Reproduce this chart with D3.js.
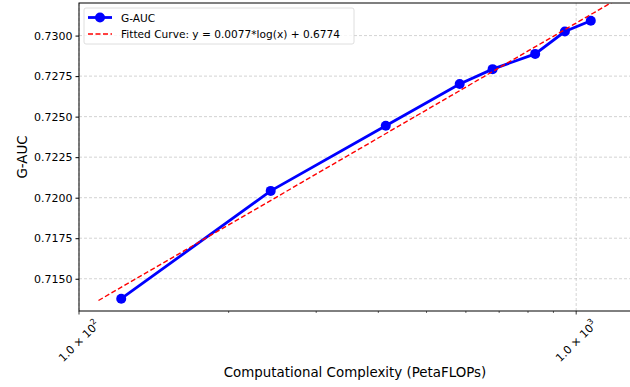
<!DOCTYPE html>
<html>
<head>
<meta charset="utf-8">
<script src="https://cdn.jsdelivr.net/npm/d3@7"></script>
<style>
  body { margin: 0; background: #fff; }
  svg { font-family: "DejaVu Sans", sans-serif; }
</style>
</head>
<body>
<div id="chart"></div>
<script>
// values
const flops = [121.6, 243, 414, 583, 679, 827, 949, 1070];
const gauc = [0.71377, 0.72042, 0.72444, 0.72701, 0.72793, 0.72887, 0.73025, 0.73092];
const yTicks = [0.7150, 0.7175, 0.7200, 0.7225, 0.7250, 0.7275, 0.7300];
const xMajor = [100, 1000];
const xMinor = [200, 300, 400, 500, 600, 700, 800, 900];
const fitLabel = 'Fitted Curve: y = 0.0077*log(x) + 0.6774';

const width = 630, height = 387;
const margin = { top: 3, right: -1, bottom: 76, left: 79 };
const W = width - margin.left - margin.right;
const H = height - margin.top - margin.bottom;

const svg = d3.select('#chart').append('svg')
  .attr('width', width)
  .attr('height', height);

const x = d3.scaleLog().domain([100, 1289]).range([0, W]);
const y = d3.scaleLinear().domain([0.71301, 0.73201]).range([H, 0]);

const g = svg.append('g')
  .attr('transform', 'translate(' + margin.left + ',' + margin.top + ')');

g.append('clipPath').attr('id', 'clip')
  .append('rect').attr('width', W).attr('height', H);

// grid
g.selectAll('.hgrid').data(yTicks).enter().append('line')
  .attr('x1', 0).attr('x2', W)
  .attr('y1', d => y(d)).attr('y2', d => y(d))
  .attr('stroke', '#b0b0b0').attr('stroke-opacity', 0.7)
  .attr('stroke-width', 0.8).attr('stroke-dasharray', '3,2');
g.selectAll('.vgrid').data(xMajor).enter().append('line')
  .attr('x1', d => x(d)).attr('x2', d => x(d))
  .attr('y1', 0).attr('y2', H)
  .attr('stroke', '#b0b0b0').attr('stroke-opacity', 0.7)
  .attr('stroke-width', 0.8).attr('stroke-dasharray', '3,2');

// least squares fit of gauc on ln(flops)
const lx = flops.map(Math.log);
const mx = d3.mean(lx), my = d3.mean(gauc);
const slope = d3.sum(lx, (v, i) => (v - mx) * (gauc[i] - my)) / d3.sum(lx, v => (v - mx) * (v - mx));
const icpt = my - slope * mx;
const fitX = d3.range(0, 101).map(i => flops[0] * 0.9 + i / 100 * (flops[flops.length - 1] * 1.1 - flops[0] * 0.9));

const plot = g.append('g').attr('clip-path', 'url(#clip)');

plot.append('path')
  .datum(flops.map((v, i) => [v, gauc[i]]))
  .attr('fill', 'none')
  .attr('stroke', '#0000ff')
  .attr('stroke-width', 2.8)
  .attr('d', d3.line().x(d => x(d[0])).y(d => y(d[1])));

plot.selectAll('circle').data(flops).enter().append('circle')
  .attr('cx', d => x(d))
  .attr('cy', (d, i) => y(gauc[i]))
  .attr('r', 5)
  .attr('fill', '#0000ff');

plot.append('path')
  .datum(fitX)
  .attr('fill', 'none')
  .attr('stroke', '#ff0000')
  .attr('stroke-width', 1.4)
  .attr('stroke-dasharray', '5,2.5')
  .attr('d', d3.line().x(d => x(d)).y(d => y(slope * Math.log(d) + icpt)));

// spines
g.append('rect')
  .attr('width', W).attr('height', H)
  .attr('fill', 'none').attr('stroke', '#000').attr('stroke-width', 1);

// y axis
const yAxis = g.append('g')
  .call(d3.axisLeft(y).tickValues(yTicks).tickFormat(d3.format('.4f')).tickSize(3.5).tickPadding(3));
yAxis.select('.domain').remove();
yAxis.selectAll('text').attr('font-size', 11).attr('fill', '#000').attr('font-family', '"DejaVu Sans"');

// x axis ticks
const xAxis = g.append('g').attr('transform', 'translate(0,' + H + ')');
xAxis.selectAll('.maj').data(xMajor).enter().append('line')
  .attr('x1', d => x(d)).attr('x2', d => x(d)).attr('y1', 0).attr('y2', 3.5)
  .attr('stroke', '#000').attr('stroke-width', 0.8);
xAxis.selectAll('.min').data(xMinor).enter().append('line')
  .attr('x1', d => x(d)).attr('x2', d => x(d)).attr('y1', 0).attr('y2', 2)
  .attr('stroke', '#000').attr('stroke-width', 0.6);

const xl = xAxis.selectAll('.xlab').data(xMajor).enter().append('text')
  .attr('transform', d => 'translate(' + x(d) + ',30) rotate(-45)')
  .attr('text-anchor', 'middle')
  .attr('dominant-baseline', 'central')
  .attr('font-size', 11)
  .attr('fill', '#000');
xl.append('tspan').text('1.0 \u00d7 10');
xl.append('tspan').attr('dy', -4).attr('font-size', 8).text(d => Math.round(Math.log10(d)));

// axis labels
svg.append('text')
  .attr('x', margin.left + W / 2).attr('y', 377)
  .attr('text-anchor', 'middle').attr('font-size', 13.4)
  .text('Computational Complexity (PetaFLOPs)');
svg.append('text')
  .attr('transform', 'translate(27,' + (margin.top + H / 2) + ') rotate(-90)')
  .attr('text-anchor', 'middle').attr('font-size', 13.4)
  .text('G-AUC');

// legend
const lg = svg.append('g').attr('transform', 'translate(84,8)');
lg.append('rect')
  .attr('width', 270).attr('height', 36).attr('rx', 2)
  .attr('fill', '#fff').attr('fill-opacity', 0.8)
  .attr('stroke', '#d5d5d5').attr('stroke-width', 0.8);
lg.append('line').attr('x1', 4).attr('x2', 28).attr('y1', 9.5).attr('y2', 9.5)
  .attr('stroke', '#0000ff').attr('stroke-width', 2.8);
lg.append('circle').attr('cx', 16).attr('cy', 9.5).attr('r', 5).attr('fill', '#0000ff');
lg.append('line').attr('x1', 4).attr('x2', 28).attr('y1', 26).attr('y2', 26)
  .attr('stroke', '#ff0000').attr('stroke-width', 1.4).attr('stroke-dasharray', '5,2.5');
lg.append('text').attr('x', 37).attr('y', 9.5).attr('dominant-baseline', 'central')
  .attr('font-size', 10.6).text('G-AUC');
lg.append('text').attr('x', 37).attr('y', 26).attr('dominant-baseline', 'central')
  .attr('font-size', 10.6).text(fitLabel);
</script>
</body>
</html>
